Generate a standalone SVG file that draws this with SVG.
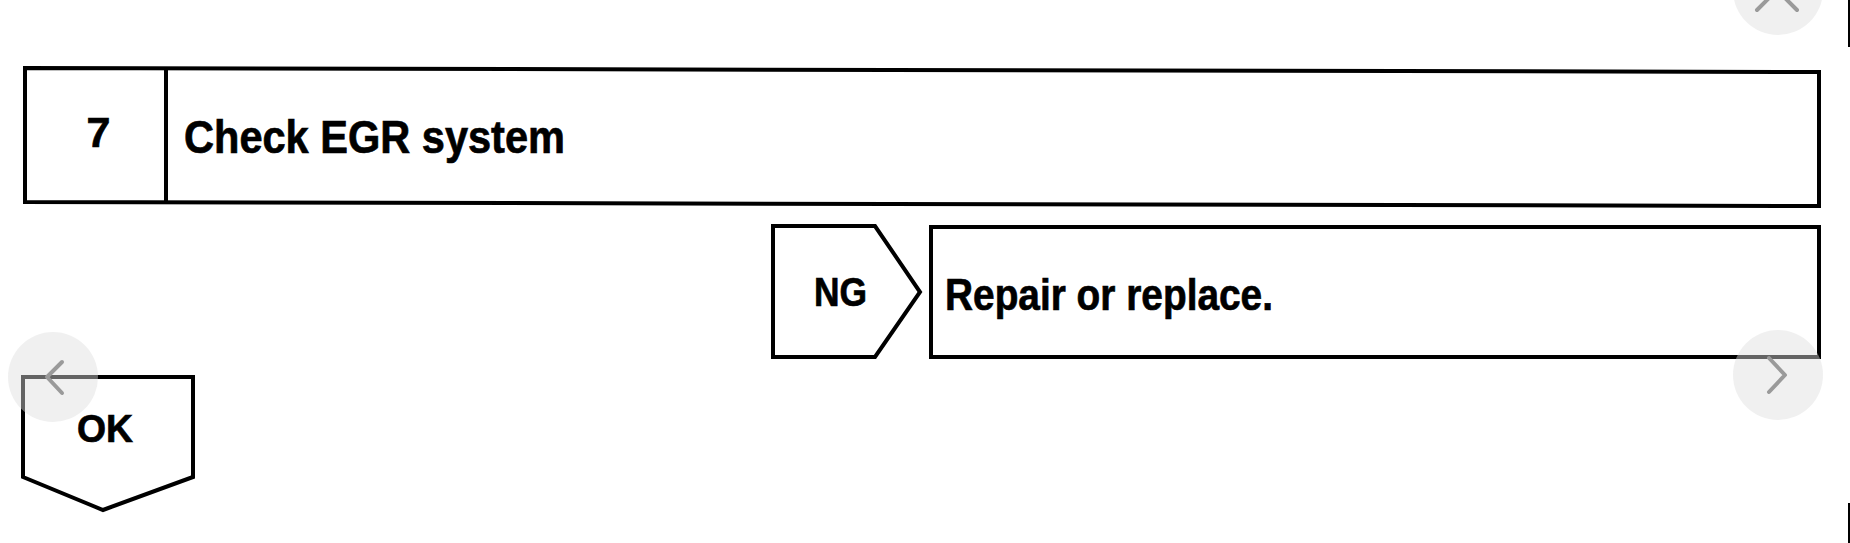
<svg xmlns="http://www.w3.org/2000/svg" width="1850" height="543" viewBox="0 0 1850 543">
<style>
.box{fill:#fff;stroke:#000;stroke-width:4;stroke-linejoin:miter}
.t{font-family:"Liberation Sans",Arial,Helvetica,sans-serif;font-weight:bold;fill:#000;stroke:#000;stroke-width:0.7}
.ui{fill:#dedede;fill-opacity:0.45}
.chev{fill:none;stroke:#9a9a9a;stroke-width:4;stroke-linecap:round;stroke-linejoin:round}
</style>
<rect width="1850" height="543" fill="#fff"/>
<g id="step7">
<polygon class="box" points="25,68 1819,72 1819,206 25,202"/>
<line x1="166" y1="69" x2="166" y2="202" stroke="#000" stroke-width="4"/>
<text class="t" x="98.5" y="147" font-size="43" text-anchor="middle">7</text>
<text class="t" x="184" y="153" font-size="46" textLength="381" lengthAdjust="spacingAndGlyphs">Check EGR system</text>
</g>
<g id="connectors">
<g id="ng">
<polygon class="box" points="773,226 875,226 920,292 875,357 773,357"/>
<text class="t" x="814" y="306" font-size="40" textLength="53" lengthAdjust="spacingAndGlyphs">NG</text>
</g>
<g id="ok">
<polygon class="box" points="23,377 193,377 193,477 103,510 23,477"/>
<text class="t" x="77" y="442" font-size="38" textLength="56" lengthAdjust="spacingAndGlyphs">OK</text>
</g>
</g>
<g id="repair">
<rect class="box" x="931" y="227" width="888" height="130"/>
<text class="t" x="945" y="310" font-size="45" textLength="328" lengthAdjust="spacingAndGlyphs">Repair or replace.</text>
</g>
<g id="viewer-ui">
<circle class="ui" cx="1778" cy="-10" r="45"/>
<path class="chev" d="M1757,10 L1797,-30 M1797,10 L1757,-30"/>
<circle class="ui" cx="53" cy="377" r="45"/>
<path class="chev" d="M62,362 L47,377 L62,393"/>
<circle class="ui" cx="1778" cy="375" r="45"/>
<path class="chev" d="M1769,358 L1785,375 L1769,392"/>
<line x1="1849" y1="0" x2="1849" y2="47" stroke="#000" stroke-width="2"/>
<line x1="1849" y1="503" x2="1849" y2="543" stroke="#000" stroke-width="2"/>
</g>
</svg>
